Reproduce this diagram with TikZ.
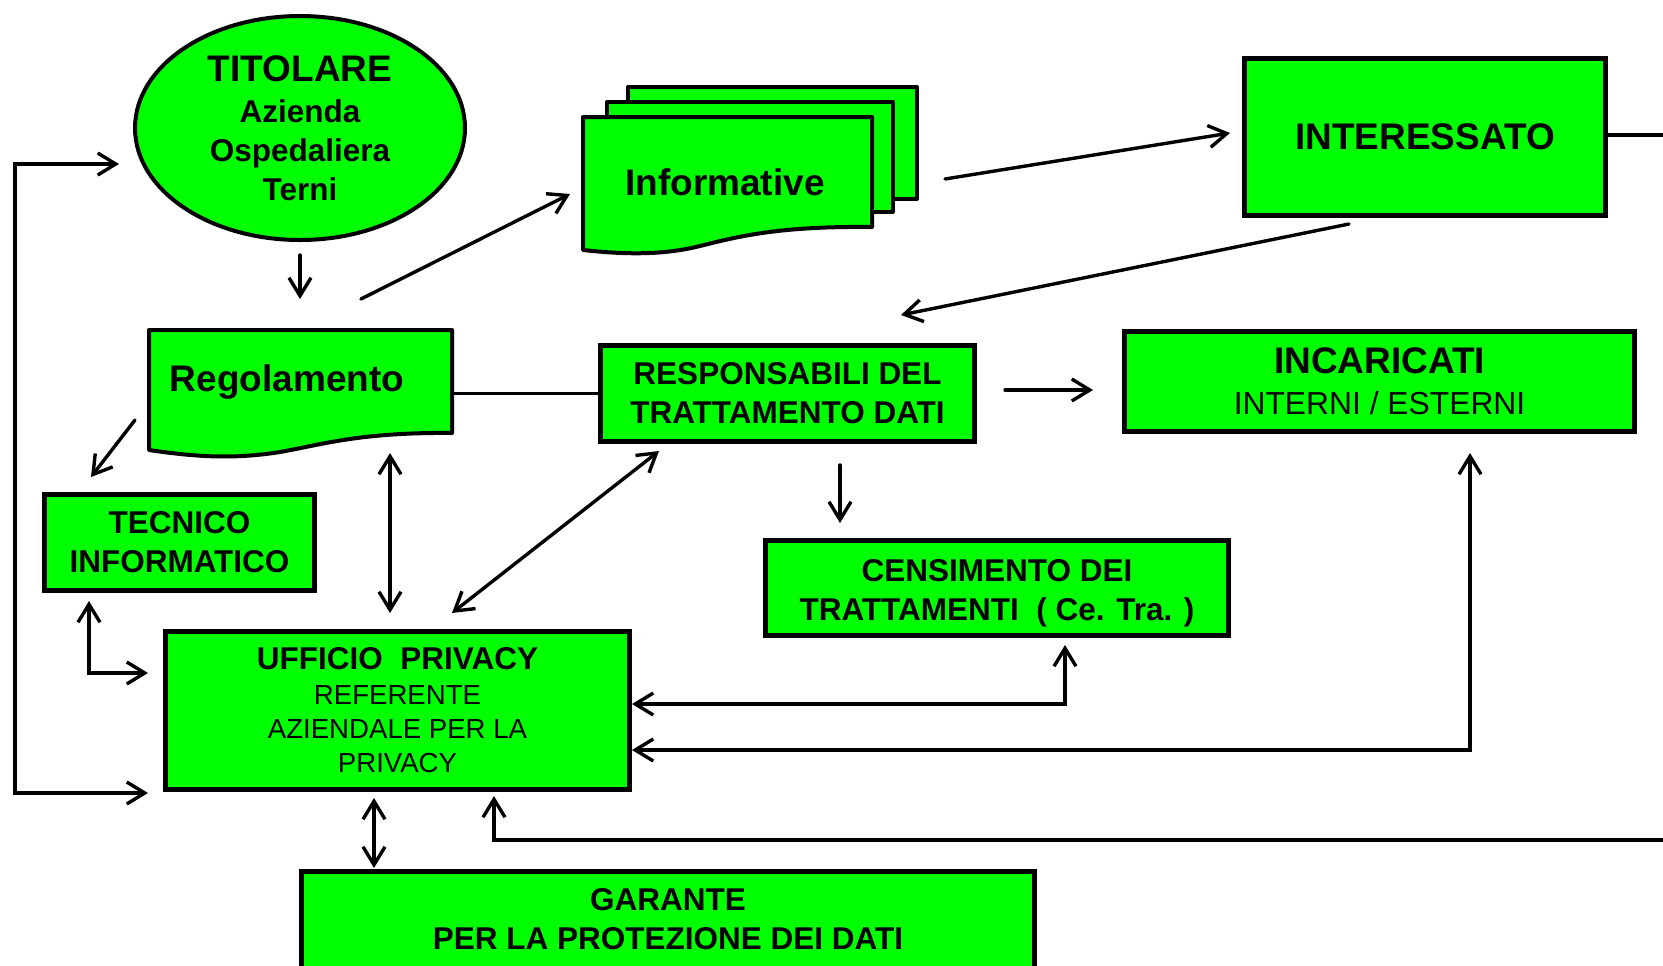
\documentclass[tikz,border=0pt]{standalone}
\usepackage{fontspec}
\setmainfont{Liberation Sans}
\usetikzlibrary{arrows.meta,shapes.geometric}
\newcommand\fBig{\fontsize{18.5}{21}\selectfont\bfseries}
\newcommand\fMed{\fontsize{15.75}{19.5}\selectfont\bfseries}
\newcommand\fReg{\fontsize{15.9}{20.5}\selectfont\mdseries}
\newcommand\fSub{\fontsize{13.8}{16.5}\selectfont\mdseries}
\definecolor{vgreen}{HTML}{00FF00}
\tikzset{
  box/.style={draw=black, fill=vgreen, line width=2.75pt, line join=miter, rectangle, inner sep=0pt, align=center, font=\fMed},
  shp/.style={draw=black, fill=vgreen, line width=2pt, line join=round},
  lbl/.style={inner sep=0pt, align=center},
  conn/.style={line width=1.7pt, line cap=round, line join=miter},
  arr/.style={conn, -{Straight Barb[length=9pt,width=11pt]}},
  darr/.style={conn, {Straight Barb[length=9pt,width=11pt]}-{Straight Barb[length=9pt,width=11pt]}},
}
\begin{document}
\begin{tikzpicture}[x=0.5pt,y=-0.5pt]
\useasboundingbox (0,0) rectangle (1663,965);
\clip (0,0) rectangle (1663,965);

% TITOLARE
\node[ellipse, draw=black, fill=vgreen, line width=2pt, inner sep=0pt,
      minimum width=165pt, minimum height=112pt, align=center, font=\fMed]
  (tit) at (300,128) {{\fBig TITOLARE}\\[1pt]Azienda\\Ospedaliera\\Terni};

% Informative stack
\filldraw[shp] (628,87) rectangle (917,199);
\filldraw[shp] (607,102) rectangle (893,212);
\filldraw[shp] (583,117) -- (872,117) -- (872,227)
  .. controls (780,226) and (740,236) .. (700,246)
  .. controls (660,256) and (620,254) .. (583,250) -- cycle;
\node[lbl, font=\fBig, anchor=base] (inf) at (725,195) {Informative};

% Regolamento
\filldraw[shp] (149,330) -- (452,330) -- (452,433)
  .. controls (360,432) and (320,445) .. (280,452)
  .. controls (230,460) and (190,456) .. (149,450) -- cycle;
\node[lbl, font=\fBig, anchor=base] (reg) at (287,391) {Regolamento};
\coordinate (regR) at (452,393.5);

% boxes
\node[box, font=\fBig, minimum width=180.5pt, minimum height=78.5pt] (inter) at (1425,137) {INTERESSATO};
\node[box, minimum width=187pt, minimum height=48pt] (resp) at (787.5,393.5) {RESPONSABILI DEL\\TRATTAMENTO DATI};
\node[box, minimum width=255pt, minimum height=50pt] (inc) at (1379.5,381.5) {{\fBig INCARICATI}\\[1pt]{\fReg INTERNI / ESTERNI}};
\node[box, minimum width=231.5pt, minimum height=47.5pt, text depth=0pt] (cens) at (997,588) {\rule{0pt}{13pt}CENSIMENTO DEI\\TRATTAMENTI\ \ ( Ce. Tra. )};
\node[box, minimum width=135pt, minimum height=48pt] (tec) at (179.5,542.5) {TECNICO\\INFORMATICO};
\node[box, minimum width=232pt, minimum height=79pt] (uff) at (397.5,710.5) {UFFICIO\ \ PRIVACY\\[-2pt]{\fSub REFERENTE}\\[-2.5pt]{\fSub AZIENDALE PER LA}\\[-2.5pt]{\fSub PRIVACY}};
\filldraw[box] (301.5,871.5) rectangle (1034.5,1040);
\node[lbl, font=\fMed] (gar) at (668,919) {GARANTE\\PER LA PROTEZIONE DEI DATI};

% connector end points
\coordinate (a1) at (119,164);
\coordinate (a2) at (148,793);
\coordinate (b1) at (300,255);
\coordinate (b2) at (300,299);
\coordinate (c1) at (361,299);
\coordinate (c2) at (570,194);
\coordinate (d1) at (945,179);
\coordinate (d2) at (1230,133);
\coordinate (e1) at (1349,224);
\coordinate (e2) at (901,315);
\coordinate (f1) at (1005,390);
\coordinate (f2) at (1093,390);
\coordinate (g1) at (840,465);
\coordinate (g2) at (840,523);
\coordinate (h1) at (135,420);
\coordinate (h2) at (91,477);
\coordinate (i1) at (390,453);
\coordinate (i2) at (390,613);
\coordinate (j1) at (659,451);
\coordinate (j2) at (452,613);
\coordinate (k1) at (89,601);
\coordinate (k2) at (148,673);
\coordinate (l1) at (1065,645);
\coordinate (l2) at (632,704);
\coordinate (m1) at (1470,453);
\coordinate (m2) at (632,750);
\coordinate (n1) at (1700,840);
\coordinate (n2) at (494,796);
\coordinate (o1) at (374,798);
\coordinate (o2) at (374,868);
\coordinate (p1) at (1700,135);

% connectors
\draw[darr] (a1) -- (15,164) -- (15,793) -- (a2);
\draw[arr] (b1) -- (b2);
\draw[arr] (c1) -- (c2);
\draw[arr] (d1) -- (d2);
\draw[conn] (inter.east |- p1) -- (p1);
\draw[arr] (e1) -- (e2);
\draw[conn] (regR) -- (resp.west);
\draw[arr] (f1) -- (f2);
\draw[arr] (g1) -- (g2);
\draw[arr] (h1) -- (h2);
\draw[darr] (i1) -- (i2);
\draw[darr] (j1) -- (j2);
\draw[darr] (k1) |- (k2);
\draw[darr] (l1) |- (l2);
\draw[darr] (m1) |- (m2);
\draw[arr] (n1) -| (n2);
\draw[darr] (o1) -- (o2);
\end{tikzpicture}
\end{document}
